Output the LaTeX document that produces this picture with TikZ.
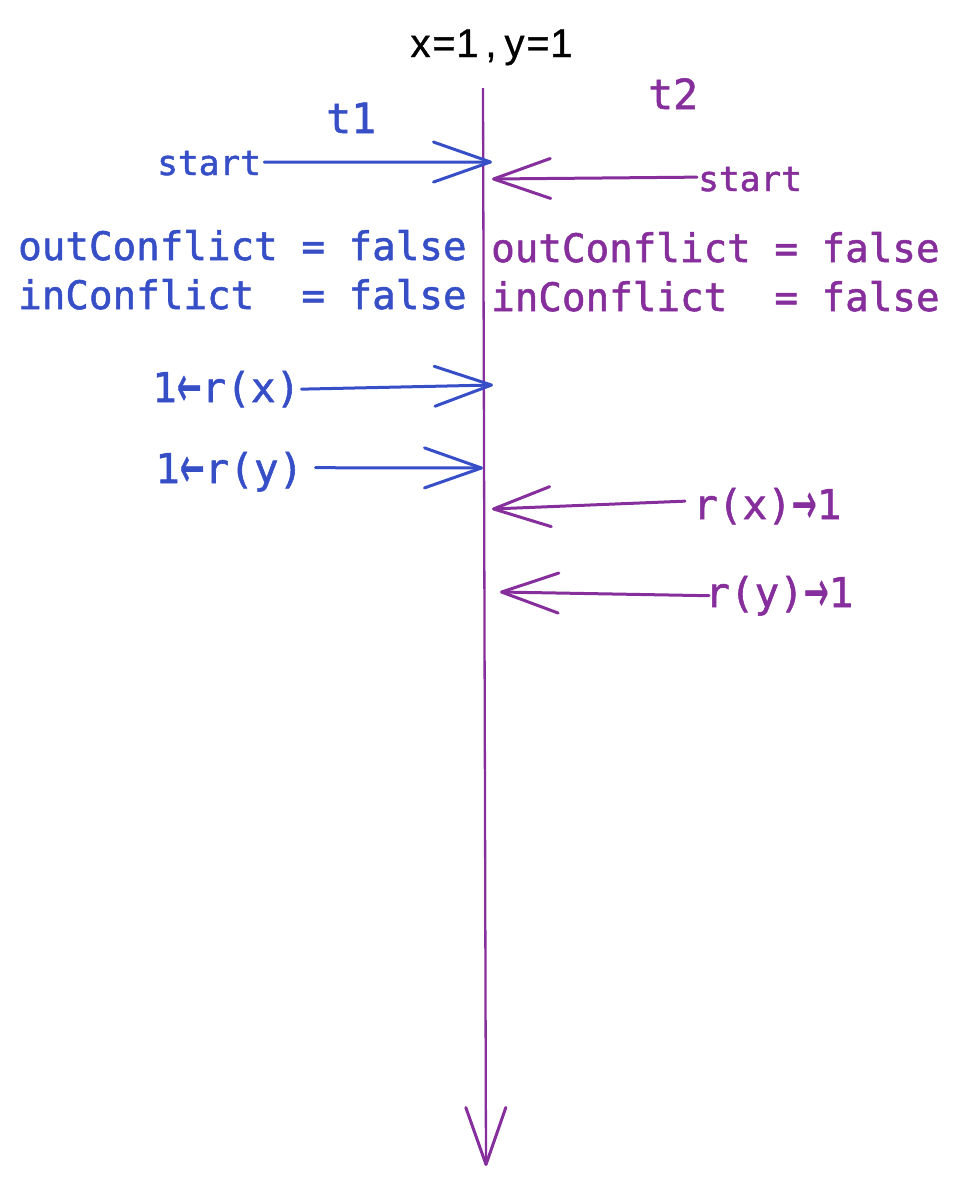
\documentclass[tikz,border=0pt]{standalone}
\usepackage{fontspec}
\usepackage{graphicx}
\usetikzlibrary{arrows.meta}
\newfontfamily\codefont[FakeBold=1.4]{DejaVu Sans Mono}
\newfontfamily\arrowfont[FakeBold=1.2]{DejaVu Sans}
\newfontfamily\titlefont[FakeBold=0.8]{Liberation Sans}
\definecolor{tone}{HTML}{364FC7}
\definecolor{ttwo}{HTML}{862E9C}
% fixed-pitch cell for the heading characters
\newcommand{\cell}[1]{\makebox[23.5pt]{#1}}
% full-cell arrows for the code labels
\newcommand{\larr}{\makebox[0.602em]{\raisebox{-0.1em}{\scalebox{0.72}[1.4]{\arrowfont ←}}}}
\newcommand{\rarr}{\makebox[0.602em]{\raisebox{-0.1em}{\scalebox{0.72}[1.4]{\arrowfont →}}}}
\begin{document}
\begin{tikzpicture}[x=1pt,y=-1pt,
  code/.style={font=\codefont\fontsize{39.2}{46}\selectfont, inner sep=0pt, anchor=base west},
  op/.style={font=\codefont\fontsize{41}{48}\selectfont, inner sep=0pt, anchor=base west},
  label/.style={font=\codefont\fontsize{41.5}{48}\selectfont, inner sep=0pt, anchor=base west},
  small/.style={font=\codefont\fontsize{34.5}{40}\selectfont, inner sep=0pt, anchor=base west},
  head/.style={-{Straight Barb[length=57pt,width=40pt,line cap=round,line join=round]}},
  msg/.style={head, line width=3pt, line cap=round},
  timeline/.style={-{Straight Barb[length=57pt,width=40pt,line width=3pt,line cap=round,line join=round]}, line width=2.3pt, color=ttwo}
]
\useasboundingbox (0,0) rectangle (959,1186);

% heading
\node[font=\titlefont\fontsize{40}{46}\selectfont, inner sep=0pt, anchor=base] (title) at (491,57)
  {\cell{x}\cell{=}\cell{1}\cell{,}\cell{y}\cell{=}\cell{1}};

% the shared timeline
\coordinate (top) at (483,88);
\coordinate (bottom) at (486,1166);
\draw[timeline] (top) -- (bottom);

% transaction labels
\node[label, text=tone] (t1) at (326,133) {t1};
\node[label, text=ttwo] (t2) at (648,109) {t2};

% state of each transaction
\node[code, text=tone] (out1) at (18,260) {outConflict = false};
\node[code, text=tone] (in1)  at (18,309) {inConflict\ \ = false};
\node[code, text=ttwo] (out2) at (491,262) {outConflict = false};
\node[code, text=ttwo] (in2)  at (491,311) {inConflict\ \ = false};

% operations
\node[small, text=tone] (start1) at (157,175) {start};
\node[small, text=ttwo] (start2) at (698,191) {start};
\node[op, text=tone] (rx1) at (152,402) {1\larr r(x)};
\node[op, text=tone] (ry1) at (155,483) {1\larr r(y)};
\node[op, text=ttwo] (rx2) at (693,519) {r(x)\rarr 1};
\node[op, text=ttwo] (ry2) at (705,607) {r(y)\rarr 1};

% points where the operations meet the timeline
\coordinate (s1) at (492,162);
\coordinate (s2) at (492,179);
\coordinate (x1) at (493,385);
\coordinate (y1) at (483,468);
\coordinate (x2) at (492,509);
\coordinate (y2) at (500,592);

% operation arrows
\draw[msg, tone] ([xshift=3pt,yshift=1pt]start1.east) -- (s1);
\draw[msg, ttwo] ([xshift=-1pt,yshift=2pt]start2.west) -- (s2);
\draw[msg, tone] ([xshift=1pt,yshift=0pt]rx1.east) -- (x1);
\draw[msg, tone] ([xshift=12pt,yshift=4pt]ry1.east) -- (y1);
\draw[msg, ttwo] ([xshift=-8pt,yshift=5pt]rx2.west) -- (x2);
\draw[msg, ttwo] ([xshift=4pt,yshift=0pt]ry2.west) -- (y2);
\end{tikzpicture}
\end{document}
